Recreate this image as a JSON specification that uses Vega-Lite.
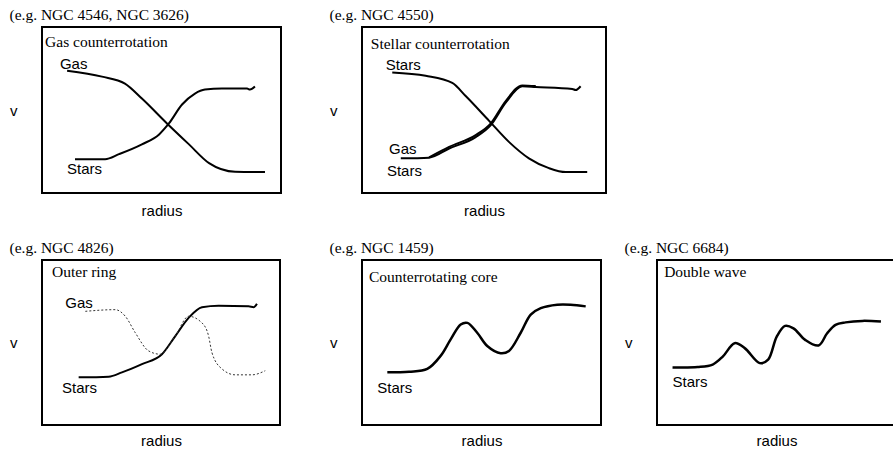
{
  "$schema": "https://vega.github.io/schema/vega-lite/v6.json",
  "padding": {"left": 8, "top": 6, "right": 0, "bottom": 0},
  "background": "white",
  "config": {
    "view": {"stroke": "black", "strokeWidth": 2},
    "axis": {"ticks": false, "labels": false, "domain": false, "grid": false, "titleFont": "Liberation Sans", "titleFontSize": 15, "titleFontWeight": "normal", "titleColor": "black"},
    "axisY": {"titleAngle": 0, "titleAlign": "right", "titleBaseline": "middle", "titlePadding": 25},
    "axisX": {"titlePadding": 10},
    "title": {"font": "Liberation Serif", "fontSize": 15.5, "fontWeight": "normal", "anchor": "start", "frame": "bounds", "offset": 4, "color": "black"},
    "line": {"color": "black", "interpolate": "monotone", "strokeWidth": 2},
    "text": {"color": "black", "align": "left", "baseline": "middle"}
  },
  "vconcat": [
    {
      "hconcat": [
        {
          "width": 239, "height": 166,
          "title": {"text": "(e.g. NGC 4546, NGC 3626)"},
          "encoding": {
            "x": {"field": "x", "type": "quantitative", "scale": {"domain": [0, 100], "nice": false, "zero": false}, "axis": {"title": "radius"}},
            "y": {"field": "y", "type": "quantitative", "scale": {"domain": [0, 100], "nice": false, "zero": false}, "axis": {"title": "v"}}
          },
          "layer": [
            {
              "data": {"values": [
                {"s": "Gas", "x": 10.5, "y": 73.7}, {"s": "Gas", "x": 25.1, "y": 70.1}, {"s": "Gas", "x": 34.7, "y": 65.9}, {"s": "Gas", "x": 41.8, "y": 56.9}, {"s": "Gas", "x": 52.3, "y": 41.9}, {"s": "Gas", "x": 61.5, "y": 29.3}, {"s": "Gas", "x": 69.9, "y": 18.0}, {"s": "Gas", "x": 80.8, "y": 12.8}, {"s": "Gas", "x": 93.3, "y": 12.6},
                {"s": "Stars", "x": 13.8, "y": 20.4}, {"s": "Stars", "x": 26.4, "y": 20.4}, {"s": "Stars", "x": 32.2, "y": 23.4}, {"s": "Stars", "x": 41.8, "y": 29.3}, {"s": "Stars", "x": 49.0, "y": 35.3}, {"s": "Stars", "x": 53.1, "y": 41.9}, {"s": "Stars", "x": 58.6, "y": 53.3}, {"s": "Stars", "x": 64.0, "y": 59.9}, {"s": "Stars", "x": 68.2, "y": 62.3}, {"s": "Stars", "x": 75.3, "y": 62.9}, {"s": "Stars", "x": 85.8, "y": 62.9}, {"s": "Stars", "x": 87.0, "y": 62.3}, {"s": "Stars", "x": 89.1, "y": 64.1}
              ]},
              "mark": {"type": "line"},
              "encoding": {"detail": {"field": "s"}}
            },
            {
              "data": {"values": [{"t": "Gas", "x": 7.5, "y": 77.8}, {"t": "Stars", "x": 10.5, "y": 14.4}]},
              "mark": {"type": "text", "font": "Liberation Sans", "fontSize": 15},
              "encoding": {"text": {"field": "t"}}
            },
            {
              "data": {"values": [{"t": "Gas counterrotation", "x": 1.3, "y": 91.0}]},
              "mark": {"type": "text", "font": "Liberation Serif", "fontSize": 15.5},
              "encoding": {"text": {"field": "t"}}
            }
          ]
        },
        {
          "width": 244, "height": 166,
          "title": {"text": "(e.g. NGC 4550)"},
          "encoding": {
            "x": {"field": "x", "type": "quantitative", "scale": {"domain": [0, 100], "nice": false, "zero": false}, "axis": {"title": "radius"}},
            "y": {"field": "y", "type": "quantitative", "scale": {"domain": [0, 100], "nice": false, "zero": false}, "axis": {"title": "v"}}
          },
          "layer": [
            {
              "data": {"values": [
                {"s": "Stars (outer)", "x": 12.4, "y": 72.6}, {"s": "Stars (outer)", "x": 26.1, "y": 70.6}, {"s": "Stars (outer)", "x": 37.0, "y": 66.3}, {"s": "Stars (outer)", "x": 42.5, "y": 58.4}, {"s": "Stars (outer)", "x": 52.0, "y": 43.6}, {"s": "Stars (outer)", "x": 60.2, "y": 30.8}, {"s": "Stars (outer)", "x": 68.4, "y": 20.9}, {"s": "Stars (outer)", "x": 76.6, "y": 15.0}, {"s": "Stars (outer)", "x": 83.5, "y": 12.6}, {"s": "Stars (outer)", "x": 92.3, "y": 12.6},
                {"s": "Stars", "x": 15.9, "y": 20.9}, {"s": "Stars", "x": 27.5, "y": 21.3}, {"s": "Stars", "x": 35.7, "y": 26.8}, {"s": "Stars", "x": 46.6, "y": 33.7}, {"s": "Stars", "x": 52.7, "y": 40.7}, {"s": "Stars", "x": 58.9, "y": 54.4}, {"s": "Stars", "x": 65.7, "y": 64.3}, {"s": "Stars", "x": 71.2, "y": 63.9}, {"s": "Stars", "x": 86.2, "y": 62.7}, {"s": "Stars", "x": 87.6, "y": 62.0}, {"s": "Stars", "x": 89.6, "y": 64.3},
                {"s": "Gas", "x": 27.5, "y": 21.5}, {"s": "Gas", "x": 35.7, "y": 27.8}, {"s": "Gas", "x": 46.6, "y": 34.9}, {"s": "Gas", "x": 52.7, "y": 41.8}, {"s": "Gas", "x": 58.9, "y": 55.4}, {"s": "Gas", "x": 65.7, "y": 64.8}, {"s": "Gas", "x": 71.2, "y": 64.4}
              ]},
              "mark": {"type": "line"},
              "encoding": {"detail": {"field": "s"}}
            },
            {
              "data": {"values": [{"t": "Stars", "x": 9.7, "y": 77.1}, {"t": "Gas", "x": 11.1, "y": 26.8}, {"t": "Stars", "x": 10.2, "y": 13.0}]},
              "mark": {"type": "text", "font": "Liberation Sans", "fontSize": 15},
              "encoding": {"text": {"field": "t"}}
            },
            {
              "data": {"values": [{"t": "Stellar counterrotation", "x": 3.6, "y": 89.9}]},
              "mark": {"type": "text", "font": "Liberation Serif", "fontSize": 15.5},
              "encoding": {"text": {"field": "t"}}
            }
          ]
        }
      ],
      "spacing": 46
    },
    {
      "hconcat": [
        {
          "hconcat": [
            {
              "width": 238, "height": 165,
              "title": {"text": "(e.g. NGC 4826)"},
              "encoding": {
                "x": {"field": "x", "type": "quantitative", "scale": {"domain": [0, 100], "nice": false, "zero": false}, "axis": {"title": "radius", "titlePadding": 8}},
                "y": {"field": "y", "type": "quantitative", "scale": {"domain": [0, 100], "nice": false, "zero": false}, "axis": {"title": "v"}}
              },
              "layer": [
                {
                  "data": {"values": [
                    {"s": "Stars", "x": 15.4, "y": 28.9}, {"s": "Stars", "x": 28.0, "y": 29.3}, {"s": "Stars", "x": 33.6, "y": 31.9}, {"s": "Stars", "x": 42.0, "y": 36.9}, {"s": "Stars", "x": 50.4, "y": 42.9}, {"s": "Stars", "x": 56.0, "y": 53.9}, {"s": "Stars", "x": 61.6, "y": 64.9}, {"s": "Stars", "x": 67.2, "y": 71.4}, {"s": "Stars", "x": 74.2, "y": 72.3}, {"s": "Stars", "x": 86.8, "y": 71.9}, {"s": "Stars", "x": 89.0, "y": 71.4}, {"s": "Stars", "x": 90.3, "y": 73.5}
                  ]},
                  "mark": {"type": "line"},
                  "encoding": {"detail": {"field": "s"}}
                },
                {
                  "data": {"values": [
                    {"s": "Gas", "x": 18.2, "y": 68.9}, {"s": "Gas", "x": 30.8, "y": 69.9}, {"s": "Gas", "x": 35.0, "y": 65.9}, {"s": "Gas", "x": 39.2, "y": 55.9}, {"s": "Gas", "x": 44.8, "y": 44.9}, {"s": "Gas", "x": 49.7, "y": 42.9}, {"s": "Gas", "x": 56.0, "y": 53.9}, {"s": "Gas", "x": 61.6, "y": 65.9}, {"s": "Gas", "x": 67.2, "y": 61.9}, {"s": "Gas", "x": 70.0, "y": 53.9}, {"s": "Gas", "x": 71.4, "y": 43.9}, {"s": "Gas", "x": 75.6, "y": 34.0}, {"s": "Gas", "x": 81.2, "y": 30.4}, {"s": "Gas", "x": 88.2, "y": 30.4}, {"s": "Gas", "x": 93.8, "y": 32.9}
                  ]},
                  "mark": {"type": "line", "strokeWidth": 1, "strokeDash": [2, 2], "color": "#333333"},
                  "encoding": {"detail": {"field": "s"}}
                },
                {
                  "data": {"values": [{"t": "Gas", "x": 9.8, "y": 73.8}, {"t": "Stars", "x": 8.4, "y": 22.3}]},
                  "mark": {"type": "text", "font": "Liberation Sans", "fontSize": 15},
                  "encoding": {"text": {"field": "t"}}
                },
                {
                  "data": {"values": [{"t": "Outer ring", "x": 4.2, "y": 92.8}]},
                  "mark": {"type": "text", "font": "Liberation Serif", "fontSize": 15.5},
                  "encoding": {"text": {"field": "t"}}
                }
              ]
            },
            {
              "width": 239, "height": 165,
              "title": {"text": "(e.g. NGC 1459)"},
              "encoding": {
                "x": {"field": "x", "type": "quantitative", "scale": {"domain": [0, 100], "nice": false, "zero": false}, "axis": {"title": "radius", "titlePadding": 8}},
                "y": {"field": "y", "type": "quantitative", "scale": {"domain": [0, 100], "nice": false, "zero": false}, "axis": {"title": "v"}}
              },
              "layer": [
                {
                  "data": {"values": [
                    {"s": "Stars", "x": 10.6, "y": 31.9}, {"s": "Stars", "x": 19.7, "y": 32.3}, {"s": "Stars", "x": 27.3, "y": 34.0}, {"s": "Stars", "x": 32.9, "y": 41.9}, {"s": "Stars", "x": 37.1, "y": 51.9}, {"s": "Stars", "x": 41.3, "y": 60.9}, {"s": "Stars", "x": 44.1, "y": 61.9}, {"s": "Stars", "x": 48.2, "y": 55.9}, {"s": "Stars", "x": 52.4, "y": 47.9}, {"s": "Stars", "x": 58.0, "y": 43.5}, {"s": "Stars", "x": 61.5, "y": 44.9}, {"s": "Stars", "x": 66.4, "y": 55.9}, {"s": "Stars", "x": 70.6, "y": 66.9}, {"s": "Stars", "x": 74.8, "y": 70.8}, {"s": "Stars", "x": 81.7, "y": 72.9}, {"s": "Stars", "x": 87.3, "y": 72.9}, {"s": "Stars", "x": 93.6, "y": 71.9}
                  ]},
                  "mark": {"type": "line", "strokeWidth": 2.5, "interpolate": "catmull-rom"},
                  "encoding": {"detail": {"field": "s"}}
                },
                {
                  "data": {"values": [{"t": "Stars", "x": 6.4, "y": 22.3}]},
                  "mark": {"type": "text", "font": "Liberation Sans", "fontSize": 15},
                  "encoding": {"text": {"field": "t"}}
                },
                {
                  "data": {"values": [{"t": "Counterrotating core", "x": 2.9, "y": 89.8}]},
                  "mark": {"type": "text", "font": "Liberation Serif", "fontSize": 15.5},
                  "encoding": {"text": {"field": "t"}}
                }
              ]
            }
          ],
          "spacing": 47
        },
        {
          "width": 239, "height": 165,
          "title": {"text": "(e.g. NGC 6684)"},
          "encoding": {
            "x": {"field": "x", "type": "quantitative", "scale": {"domain": [0, 100], "nice": false, "zero": false}, "axis": {"title": "radius", "titlePadding": 8}},
            "y": {"field": "y", "type": "quantitative", "scale": {"domain": [0, 100], "nice": false, "zero": false}, "axis": {"title": "v"}}
          },
          "layer": [
            {
              "data": {"values": [
                {"s": "Stars", "x": 6.5, "y": 34.9}, {"s": "Stars", "x": 17.0, "y": 35.1}, {"s": "Stars", "x": 23.3, "y": 36.6}, {"s": "Stars", "x": 27.6, "y": 41.6}, {"s": "Stars", "x": 32.5, "y": 49.6}, {"s": "Stars", "x": 36.7, "y": 46.6}, {"s": "Stars", "x": 43.0, "y": 37.5}, {"s": "Stars", "x": 46.5, "y": 39.6}, {"s": "Stars", "x": 50.1, "y": 53.6}, {"s": "Stars", "x": 53.6, "y": 60.1}, {"s": "Stars", "x": 57.1, "y": 58.6}, {"s": "Stars", "x": 62.0, "y": 51.6}, {"s": "Stars", "x": 67.6, "y": 48.2}, {"s": "Stars", "x": 71.2, "y": 55.6}, {"s": "Stars", "x": 74.7, "y": 60.7}, {"s": "Stars", "x": 78.9, "y": 62.2}, {"s": "Stars", "x": 85.9, "y": 63.1}, {"s": "Stars", "x": 93.7, "y": 62.7}
              ]},
              "mark": {"type": "line", "strokeWidth": 2.5, "interpolate": "catmull-rom"},
              "encoding": {"detail": {"field": "s"}}
            },
            {
              "data": {"values": [{"t": "Stars", "x": 6.5, "y": 25.9}]},
              "mark": {"type": "text", "font": "Liberation Sans", "fontSize": 15},
              "encoding": {"text": {"field": "t"}}
            },
            {
              "data": {"values": [{"t": "Double wave", "x": 3.0, "y": 92.8}]},
              "mark": {"type": "text", "font": "Liberation Serif", "fontSize": 15.5},
              "encoding": {"text": {"field": "t"}}
            }
          ]
        }
      ],
      "spacing": 21
    }
  ],
  "spacing": 20
}
